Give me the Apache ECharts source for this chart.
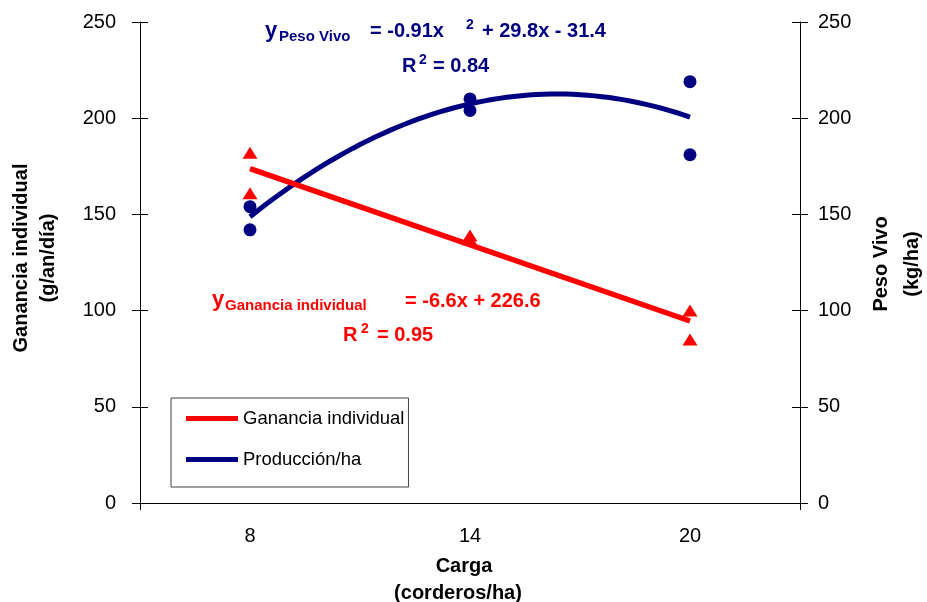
<!DOCTYPE html>
<html>
<head>
<meta charset="utf-8">
<script src="https://cdn.jsdelivr.net/npm/echarts@6/dist/echarts.min.js"></script>
<style>
  html, body { margin: 0; padding: 0; background: #fff; }
  #chart { width: 927px; height: 602px; }
</style>
</head>
<body>
<div id="chart"></div>
<script>
// Stocking rate (lambs/ha) categories shown on the x axis
const categories = ['8', '14', '20'];

// Individual gain (g/animal/day), two replicates per stocking rate
const gananciaX = [8, 8, 14, 14, 20, 20];
const gananciaY = [182, 161, 139, 137, 100, 85];

// Live-weight production (kg/ha), two replicates per stocking rate
const pesoX = [8, 8, 14, 14, 20, 20];
const pesoY = [154, 142, 210, 204, 219, 181];

// Fitted trend coefficients as printed on the chart
const gananciaTrend = [-6.6, 226.6];          // slope, intercept
const pesoTrend = [-0.91, 29.8, -31.4];       // a x^2 + b x + c
const trendRange = [8, 20];

const yTicks = { min: 0, max: 250, interval: 50 };

const RED = '#FF0000';
const NAVY = '#000080';
const FONT = '"Liberation Sans", Arial, sans-serif';

const zip = (xs, ys) => xs.map((x, i) => [x, ys[i]]);

// Linear trend endpoints
const gananciaLine = trendRange.map(x => [x, gananciaTrend[0] * x + gananciaTrend[1]]);
// Quadratic trend sampled along the x range
const pesoCurve = [];
for (let x = trendRange[0]; x <= trendRange[1] + 1e-9; x += 0.2) {
  pesoCurve.push([x, pesoTrend[0] * x * x + pesoTrend[1] * x + pesoTrend[2]]);
}

const chart = echarts.init(document.getElementById('chart'), null, { renderer: 'canvas' });

function valueY(position, withLabels, inside, margin) {
  return {
    type: 'value', position, min: yTicks.min, max: yTicks.max, interval: yTicks.interval,
    axisLine: { show: withLabels, lineStyle: { color: '#000', width: 1 } },
    axisTick: { show: true, inside, length: 8, lineStyle: { color: '#000', width: 1 } },
    axisLabel: { show: withLabels, margin, color: '#000', fontSize: 20, fontFamily: FONT },
    splitLine: { show: false }
  };
}

function text(str, x, y, size, color, opts) {
  return Object.assign({
    type: 'text', x, y,
    style: {
      text: str, fill: color, font: 'bold ' + size + 'px ' + FONT,
      align: 'left', verticalAlign: 'middle'
    }
  }, opts || {});
}

function centered(str, x, y, size, rot) {
  const t = text(str, x, y, size, '#000');
  t.style.align = 'center';
  if (rot) t.rotation = rot;
  return t;
}

const option = {
  animation: false,
  backgroundColor: '#fff',
  grid: { left: 140, right: 127, top: 22, bottom: 99, containLabel: false },
  xAxis: [
    {
      type: 'category', data: categories, position: 'bottom', boundaryGap: true,
      axisLine: { show: true, lineStyle: { color: '#000', width: 1 } },
      axisTick: { show: false },
      axisLabel: { margin: 23, color: '#000', fontSize: 20, fontFamily: FONT },
      splitLine: { show: false }
    },
    { type: 'value', min: 5, max: 23, show: false },
    {
      type: 'value', min: 0, max: 1, interval: 1, position: 'bottom',
      axisLine: { show: false }, axisLabel: { show: false }, splitLine: { show: false },
      axisTick: { show: true, length: 7, lineStyle: { color: '#000' } }
    },
    {
      type: 'value', min: 0, max: 1, interval: 1, position: 'bottom',
      axisLine: { show: false }, axisLabel: { show: false }, splitLine: { show: false },
      axisTick: { show: true, inside: true, length: 7, lineStyle: { color: '#000' } }
    }
  ],
  yAxis: [
    valueY('left', true, false, 24),
    valueY('left', false, true, 0),
    valueY('right', true, false, 18),
    valueY('right', false, true, 0)
  ],
  legend: {
    orient: 'vertical', left: 171, top: 398,
    padding: [11, 4, 18, 15], itemGap: 22,
    itemWidth: 52, itemHeight: 5,
    borderColor: '#404040', borderWidth: 1, borderRadius: 0,
    selectedMode: false,
    textStyle: { color: '#000', fontSize: 18.5, fontFamily: FONT, padding: [0, 0, 0, 0] },
    data: [
      { name: 'Ganancia individual', icon: 'rect', itemStyle: { color: RED } },
      { name: 'Producción/ha', icon: 'rect', itemStyle: { color: NAVY } }
    ]
  },
  series: [
    {
      name: 'Producción/ha', type: 'line', xAxisIndex: 1, yAxisIndex: 2,
      data: pesoCurve, showSymbol: false, smooth: false,
      lineStyle: { color: NAVY, width: 5 }, itemStyle: { color: NAVY }, z: 2
    },
    {
      name: 'Ganancia individual', type: 'line', xAxisIndex: 1, yAxisIndex: 0,
      data: gananciaLine, showSymbol: false,
      lineStyle: { color: RED, width: 5.5 }, itemStyle: { color: RED }, z: 3
    },
    {
      name: 'Producción/ha', type: 'scatter', xAxisIndex: 1, yAxisIndex: 2,
      data: zip(pesoX, pesoY), symbol: 'circle', symbolSize: 13,
      itemStyle: { color: NAVY, opacity: 1 }, z: 4
    },
    {
      name: 'Ganancia individual', type: 'scatter', xAxisIndex: 1, yAxisIndex: 0,
      data: zip(gananciaX, gananciaY), symbol: 'triangle', symbolSize: [15, 12],
      itemStyle: { color: RED, opacity: 1 }, z: 4
    }
  ],
  graphic: [
    // Axis titles
    centered('Ganancia individual', 21, 258, 20, Math.PI / 2),
    centered('(g/an/día)', 48, 258, 20, Math.PI / 2),
    centered('Peso Vivo', 881, 264, 20, Math.PI / 2),
    centered('(kg/ha)', 912, 264, 20, Math.PI / 2),
    centered('Carga', 464, 566, 20),
    centered('(corderos/ha)', 458, 593, 20),

    // Quadratic fit for live-weight production
    text('y', 265, 31, 22, NAVY),
    text('Peso Vivo', 279, 37, 15, NAVY),
    text('= -0.91x', 370, 31, 20, NAVY),
    text('2', 466, 25, 14, NAVY),
    text('+ 29.8x - 31.4', 482, 31, 20, NAVY),
    text('R', 402, 66, 20, NAVY),
    text('2', 419, 60, 14, NAVY),
    text('= 0.84', 433, 66, 20, NAVY),

    // Linear fit for individual gain
    text('y', 212, 300, 22, RED),
    text('Ganancia individual', 225, 306, 15, RED),
    text('= -6.6x + 226.6', 405, 301, 20, RED),
    text('R', 343, 335, 20, RED),
    text('2', 361, 329, 14, RED),
    text('= 0.95', 377, 335, 20, RED)
  ]
};

chart.setOption(option);
</script>
</body>
</html>
